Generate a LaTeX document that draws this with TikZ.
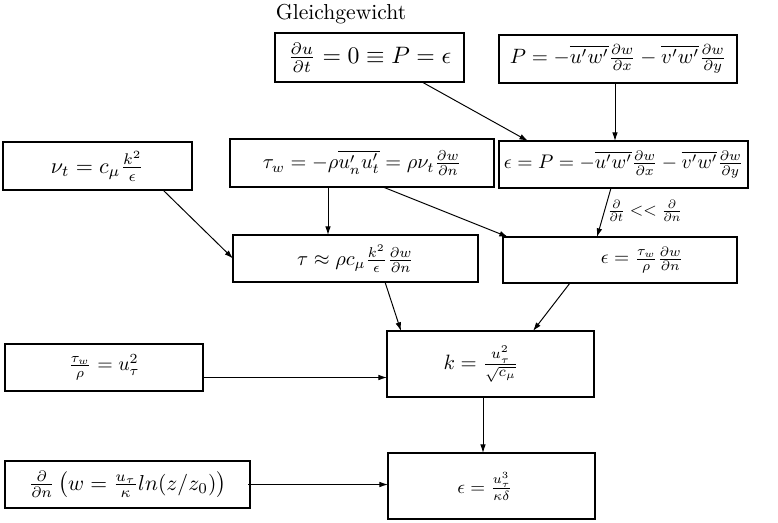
\documentclass[tikz,border=0pt]{standalone}
\usepackage{graphicx}
\usetikzlibrary{arrows.meta}
\newlength\pxu
\setlength\pxu{0.4627pt}
\newcommand\mt[2]{\scalebox{#1}{$#2$}}
\tikzset{
  box/.style={draw, line width=0.5pt, inner sep=0pt, outer sep=0pt, rectangle},
  arr/.style={-{Latex[length=4pt,width=2.6pt]}, line width=0.45pt},
}
\begin{document}
\begin{tikzpicture}[x=0.4627pt, y=-0.4627pt]
\useasboundingbox (0,0) rectangle (778,522);
\node (title) at (341,14) {Gleichgewicht};
\node[box, minimum width=189\pxu, minimum height=49\pxu] (A) at (369.5,57.5)
  {\mt{1.1}{\frac{\partial u}{\partial t} = 0 \equiv P = \epsilon}};
\node[box, minimum width=238\pxu, minimum height=48\pxu] (B) at (618,59)
  {\mt{0.96}{P = -\overline{u'w'}\frac{\partial w}{\partial x} - \overline{v'w'}\frac{\partial w}{\partial y}}};
\node[box, minimum width=189\pxu, minimum height=48\pxu] (Nu) at (97.5,166)
  {\mt{1.02}{\nu_t = c_\mu \frac{k^2}{\epsilon}}};
\node[box, minimum width=264\pxu, minimum height=48\pxu] (Tw) at (362,163)
  {\mt{0.94}{\tau_w = -\rho\overline{u'_n u'_t} = \rho\nu_t\frac{\partial w}{\partial n}}};
\node[box, minimum width=249\pxu, minimum height=47\pxu] (EP) at (623.5,164.5)
  {\mt{0.91}{\epsilon = P = -\overline{u'w'}\frac{\partial w}{\partial x} - \overline{v'w'}\frac{\partial w}{\partial y}}};
\node[box, minimum width=245\pxu, minimum height=47\pxu] (Tau) at (355.5,258.5)
  {\mt{0.94}{\tau \approx \rho c_\mu \frac{k^2}{\epsilon}\frac{\partial w}{\partial n}}};
\node (cond) at (645,211) {\mt{0.8}{\frac{\partial}{\partial t} << \frac{\partial}{\partial n}}};
\node[box, minimum width=234\pxu, minimum height=46\pxu] (E2) at (620,260)
  {\hspace*{44\pxu}\mt{0.9}{\epsilon = \frac{\tau_w}{\rho}\frac{\partial w}{\partial n}}};
\node[box, minimum width=198\pxu, minimum height=47\pxu] (Ut) at (104,367.5)
  {\mt{0.92}{\frac{\tau_w}{\rho} = u_\tau^2}};
\node[box, minimum width=207\pxu, minimum height=66\pxu] (K) at (490.5,364)
  {\mt{0.96}{k = \frac{u_\tau^2}{\sqrt{c_\mu}}}\hspace*{19\pxu}};
\node[box, minimum width=245\pxu, minimum height=47\pxu] (Dn) at (127.5,484.5)
  {$\frac{\partial}{\partial n}\left(w = \frac{u_\tau}{\kappa} ln(z/z_0)\right)$};
\node[box, minimum width=207\pxu, minimum height=66\pxu] (E3) at (491.5,486)
  {\mt{0.88}{\epsilon = \frac{u_\tau^3}{\kappa\delta}}\hspace*{13\pxu}};

\draw[arr] ([xshift=147\pxu]A.south west) -- ([xshift=29\pxu]EP.north west);
\draw[arr] ([xshift=116\pxu]B.south west) -- ([xshift=116\pxu]B.south west |- EP.north);
\draw[arr] ([xshift=160\pxu]Nu.south west) -- (Tau.west);
\draw[arr] ([xshift=98\pxu]Tw.south west) -- ([xshift=98\pxu]Tw.south west |- Tau.north);
\draw[arr] ([xshift=153\pxu]Tw.south west) -- ([xshift=5\pxu]E2.north west);
\draw[arr] ([xshift=112\pxu]EP.south west) -- ([xshift=94\pxu]E2.north west);
\draw[arr] ([xshift=152\pxu]Tau.south west) -- ([xshift=14\pxu]K.north west);
\draw[arr] ([xshift=67\pxu]E2.south west) -- ([xshift=146\pxu]K.north west);
\draw[arr] ([yshift=-10\pxu]Ut.east) -- ([yshift=-10\pxu]Ut.east -| K.west);
\draw[arr] ([xshift=96\pxu]K.south west) -- ([xshift=96\pxu]K.south west |- E3.north);
\draw[arr] ([xshift=-2\pxu]Dn.east) -- (Dn.east -| E3.west);
\end{tikzpicture}
\end{document}
